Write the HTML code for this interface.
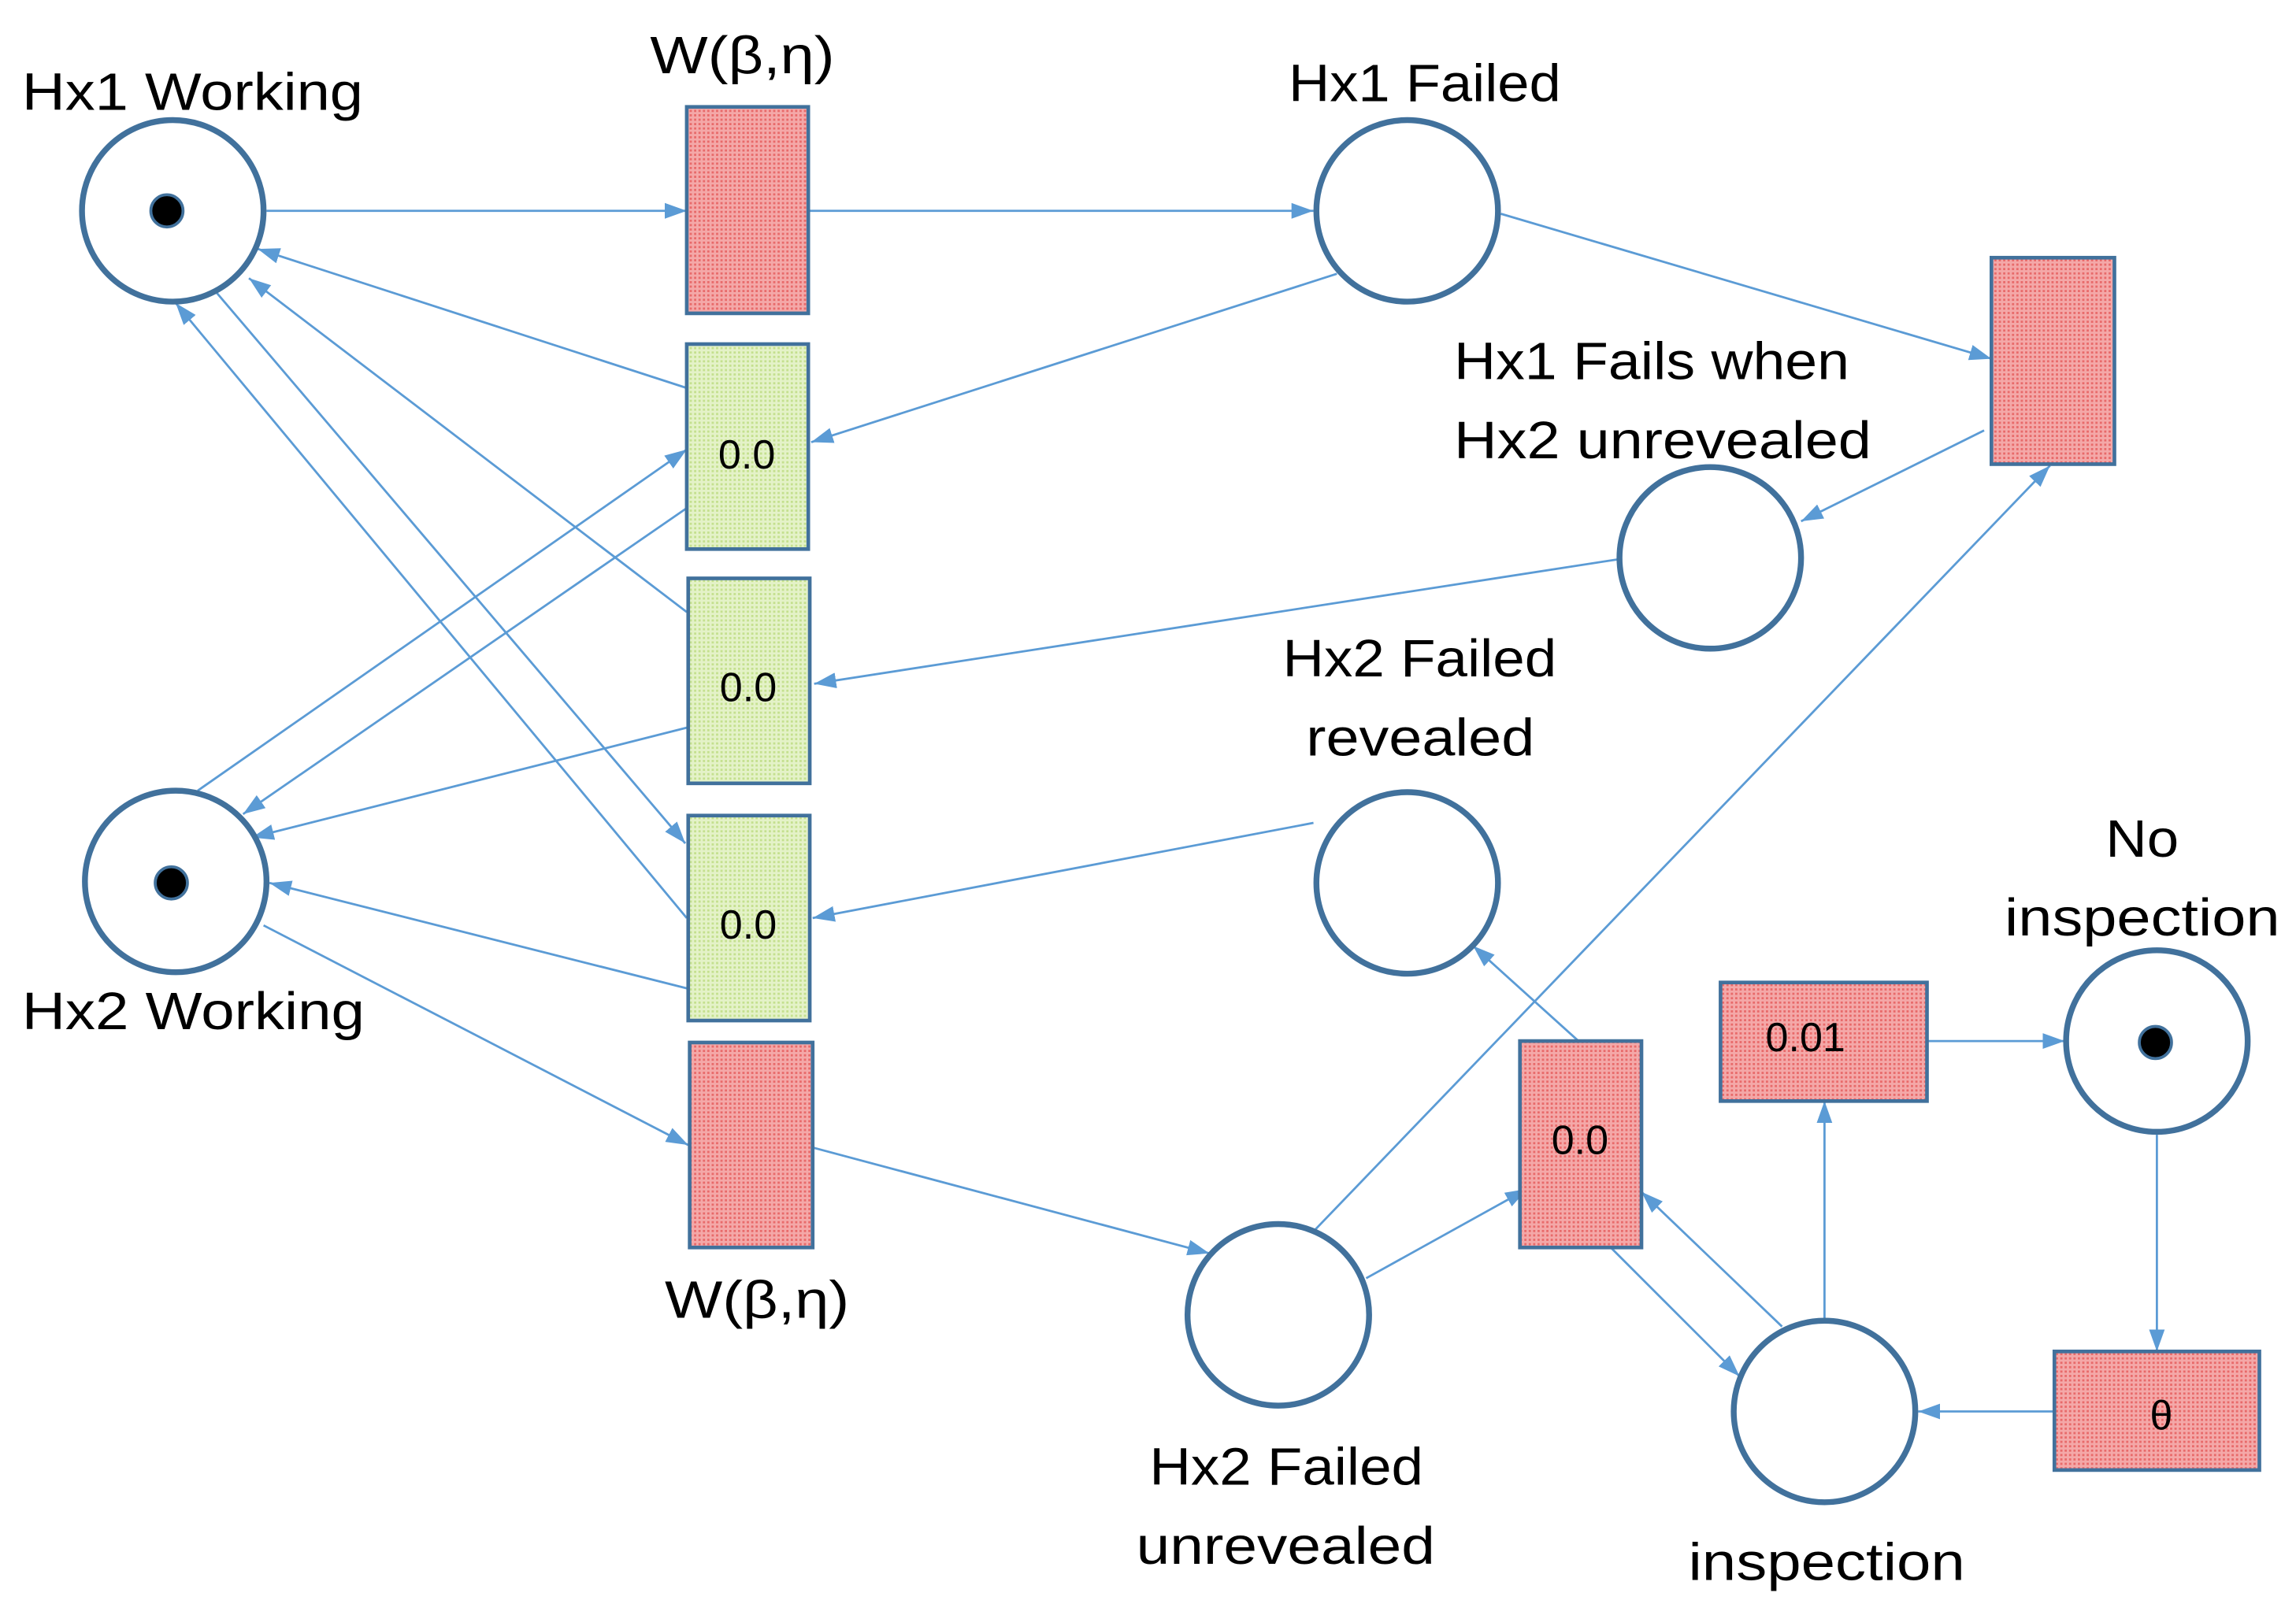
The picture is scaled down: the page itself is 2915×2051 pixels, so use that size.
<!DOCTYPE html>
<html><head><meta charset="utf-8"><style>
html,body{margin:0;padding:0;background:#fff;}
svg{display:block;}
text{font-family:"Liberation Sans",sans-serif;fill:#000;}
</style></head><body>
<svg width="2915" height="2051" viewBox="0 0 1568 1103" preserveAspectRatio="none" xmlns="http://www.w3.org/2000/svg">
<defs>
<marker id="a" viewBox="0 0 14 10" refX="14" refY="5" markerWidth="10" markerHeight="7.5" markerUnits="strokeWidth" orient="auto"><path d="M0,0 L14,5 L0,10 z" fill="#5b9bd5"/></marker>
<pattern id="pr" width="3" height="3" patternUnits="userSpaceOnUse"><rect width="3" height="3" fill="#f4a8a8"/><rect width="1.5" height="1.5" fill="#e86a6a"/></pattern>
<pattern id="pg" width="3" height="3" patternUnits="userSpaceOnUse"><rect width="3" height="3" fill="#e4f2c8"/><rect width="1.5" height="1.5" fill="#c4e08e"/></pattern>
</defs>
<g stroke="#5b9bd5" stroke-width="1.5" fill="none" marker-end="url(#a)">
<line x1="182" y1="144" x2="469" y2="144"/>
<line x1="552" y1="144" x2="897" y2="144"/>
<line x1="1025" y1="146" x2="1360" y2="245"/>
<line x1="1355" y1="294" x2="1230" y2="356"/>
<line x1="913" y1="187" x2="554" y2="302"/>
<line x1="469" y1="265" x2="176" y2="170"/>
<line x1="1105" y1="382" x2="556" y2="467"/>
<line x1="469" y1="347" x2="166" y2="556"/>
<line x1="135" y1="540" x2="469" y2="307"/>
<line x1="469" y1="418" x2="170" y2="190"/>
<line x1="469" y1="497" x2="172" y2="572"/>
<line x1="148" y1="200" x2="468" y2="576"/>
<line x1="469" y1="627" x2="120" y2="207"/>
<line x1="897" y1="562" x2="555" y2="627"/>
<line x1="469" y1="675" x2="184" y2="603"/>
<line x1="180" y1="632" x2="470" y2="782"/>
<line x1="556" y1="784" x2="826" y2="856"/>
<line x1="898" y1="840" x2="1400" y2="318"/>
<line x1="933" y1="873" x2="1043" y2="812"/>
<line x1="1078" y1="711" x2="1006" y2="646"/>
<line x1="1100" y1="852" x2="1188" y2="940"/>
<line x1="1217" y1="906" x2="1121" y2="814"/>
<line x1="1246" y1="900" x2="1246" y2="752"/>
<line x1="1316" y1="711" x2="1410" y2="711"/>
<line x1="1473" y1="775" x2="1473" y2="923"/>
<line x1="1403" y1="964" x2="1310" y2="964"/>
</g>
<g stroke="#41719c" stroke-width="4" fill="#fff">
<circle cx="118" cy="144" r="62"/>
<circle cx="120" cy="602" r="62"/>
<circle cx="961" cy="144" r="62"/>
<circle cx="1168" cy="381" r="62"/>
<circle cx="961" cy="603" r="62"/>
<circle cx="873" cy="898" r="62"/>
<circle cx="1246" cy="964" r="62"/>
<circle cx="1473" cy="711" r="62"/>
</g>
<g fill="#000" stroke="#41719c" stroke-width="2">
<circle cx="114" cy="144" r="11"/>
<circle cx="117" cy="603" r="11"/>
<circle cx="1472" cy="712" r="11"/>
</g>
<g stroke="#41719c" stroke-width="2.5">
<rect x="469" y="73" width="83" height="141" fill="url(#pr)"/>
<rect x="469" y="235" width="83" height="140" fill="url(#pg)"/>
<rect x="470" y="395" width="83" height="140" fill="url(#pg)"/>
<rect x="470" y="557" width="83" height="140" fill="url(#pg)"/>
<rect x="471" y="712" width="84" height="140" fill="url(#pr)"/>
<rect x="1360" y="176" width="84" height="141" fill="url(#pr)"/>
<rect x="1038" y="711" width="83" height="141" fill="url(#pr)"/>
<rect x="1175" y="671" width="141" height="81" fill="url(#pr)"/>
<rect x="1403" y="923" width="140" height="81" fill="url(#pr)"/>
</g>
<g font-size="28" text-anchor="middle">
<text x="510" y="320">0.0</text>
<text x="511" y="479">0.0</text>
<text x="511" y="641">0.0</text>
<text x="1079" y="788">0.0</text>
<text x="1233" y="718">0.01</text>
<text x="1476" y="976">θ</text>
</g>
<g font-size="36">
<text x="15" y="75" textLength="233" lengthAdjust="spacingAndGlyphs">Hx1 Working</text>
<text x="444" y="50" textLength="126" lengthAdjust="spacingAndGlyphs">W(β,η)</text>
<text x="880" y="69" textLength="186" lengthAdjust="spacingAndGlyphs">Hx1 Failed</text>
<text x="993" y="259" textLength="270" lengthAdjust="spacingAndGlyphs">Hx1 Fails when</text>
<text x="993" y="313" textLength="285" lengthAdjust="spacingAndGlyphs">Hx2 unrevealed</text>
<text x="876" y="462" textLength="187" lengthAdjust="spacingAndGlyphs">Hx2 Failed</text>
<text x="892" y="516" textLength="156" lengthAdjust="spacingAndGlyphs">revealed</text>
<text x="1438" y="585" textLength="50" lengthAdjust="spacingAndGlyphs">No</text>
<text x="1369" y="639" textLength="188" lengthAdjust="spacingAndGlyphs">inspection</text>
<text x="15" y="703" textLength="234" lengthAdjust="spacingAndGlyphs">Hx2 Working</text>
<text x="454" y="900" textLength="126" lengthAdjust="spacingAndGlyphs">W(β,η)</text>
<text x="785" y="1014" textLength="187" lengthAdjust="spacingAndGlyphs">Hx2 Failed</text>
<text x="776" y="1068" textLength="204" lengthAdjust="spacingAndGlyphs">unrevealed</text>
<text x="1153" y="1079" textLength="189" lengthAdjust="spacingAndGlyphs">inspection</text>
</g>
</svg>
</body></html>
